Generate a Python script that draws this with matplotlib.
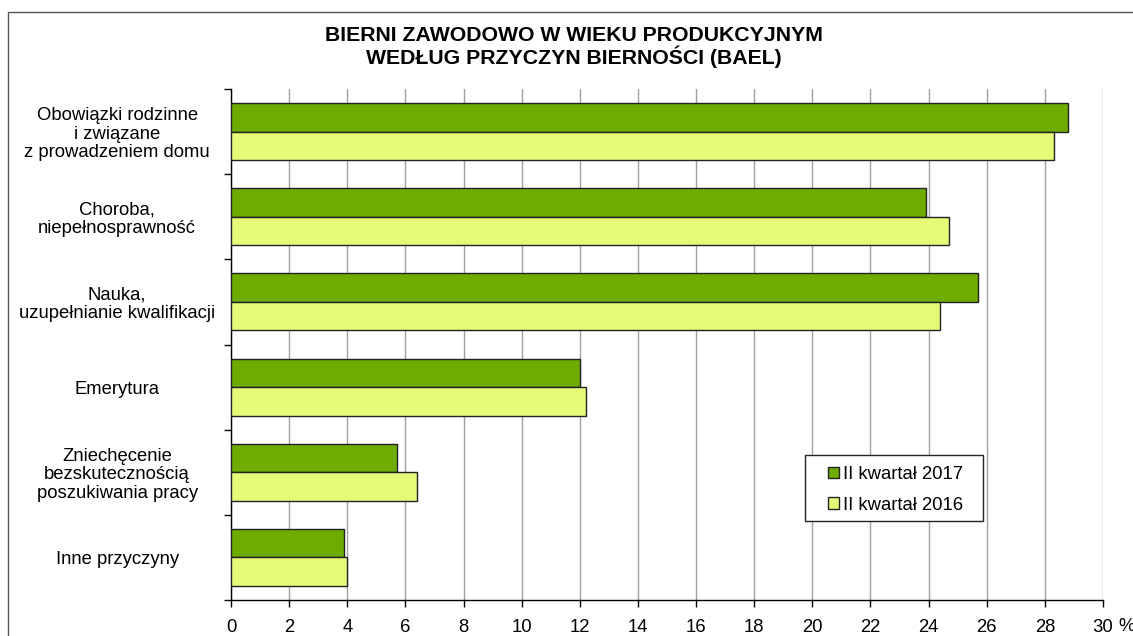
import numpy as np
import matplotlib.pyplot as plt
from matplotlib.patches import Rectangle

plt.rcParams['font.family'] = ['Liberation Sans', 'DejaVu Sans']

categories = ["Obowiązki rodzinne\ni związane\nz prowadzeniem domu",
              "Choroba,\nniepełnosprawność",
              "Nauka,\nuzupełnianie kwalifikacji",
              "Emerytura",
              "Zniechęcenie\nbezskutecznością\nposzukiwania pracy",
              "Inne przyczyny"]
q2_2017 = [28.8, 23.9, 25.7, 12.0, 5.7, 3.9]
q2_2016 = [28.3, 24.7, 24.4, 12.2, 6.4, 4.0]
series_names = ["II kwartał 2017", "II kwartał 2016"]
xticks = np.arange(0, 31, 2)

fs = 13.3

fig = plt.figure(figsize=(11.33, 6.36), dpi=100)
fig.patches.append(Rectangle((8 / 1133, -0.01), 1.0, 1.01 - 12 / 636,
                             transform=fig.transFigure, fill=False,
                             edgecolor='#555555', lw=1.0))
ax = fig.add_axes([231 / 1133, 36 / 636, 872 / 1133, 511 / 636])

n = len(categories)
y = np.arange(n)
h = 0.335
ax.barh(y - h / 2, q2_2017, height=h, color='#6fac00', edgecolor='#222222',
        lw=1.0, label=series_names[0], zorder=3)
ax.barh(y + h / 2, q2_2016, height=h, color='#e6fa78', edgecolor='#222222',
        lw=1.0, label=series_names[1], zorder=3)

ax.set_ylim(n - 0.5, -0.5)
ax.set_xlim(0, 30)
ax.set_xticks(xticks)
ax.set_xticklabels([str(v) for v in xticks], fontsize=fs)
ax.set_yticks(np.arange(n + 1) - 0.5)
ax.set_yticklabels([])
ax.set_yticks(y, minor=True)
ax.set_yticklabels(categories, minor=True, fontsize=fs, ha='center',
                   linespacing=1.1)
ax.tick_params(axis='y', which='minor', length=0, pad=82)
ax.tick_params(axis='y', which='major', length=5, width=1, direction='out')
ax.tick_params(axis='x', length=5, width=1, direction='out', pad=9)
ax.grid(axis='x', color='#a0a0a0', lw=1.0, zorder=0)
for s in ['top', 'right']:
    ax.spines[s].set_visible(False)
ax.spines['left'].set_linewidth(1.0)
ax.spines['bottom'].set_linewidth(1.0)
ax.annotate("%", xy=(30, 0), xycoords=('data', 'axes fraction'),
            xytext=(11, -13), textcoords='offset points', fontsize=fs,
            ha='left', va='top')

# legend box drawn separately so the padding can be wider than tall
ax.add_patch(Rectangle((574 / 872, 1 - 432 / 511), 178 / 872, 66 / 511,
                       transform=ax.transAxes, facecolor='white',
                       edgecolor='#222222', lw=1.0, zorder=4))
leg = ax.legend(loc='upper left', bbox_to_anchor=(597 / 872, 1 - 377 / 511),
                frameon=False, fontsize=fs, handlelength=0.6,
                handleheight=0.6, handletextpad=0.2, labelspacing=0.75,
                borderpad=0, borderaxespad=0)
leg.set_zorder(5)
for p in leg.get_patches():
    p.set_linewidth(1.0)

fig.text(574 / 1133, 1 - 47 / 636,
         "BIERNI ZAWODOWO W WIEKU PRODUKCYJNYM\nWEDŁUG PRZYCZYN BIERNOŚCI (BAEL)",
         ha='center', va='center', fontsize=15.3, fontweight='bold',
         linespacing=1.05)

fig.savefig('out.png', dpi=100)
